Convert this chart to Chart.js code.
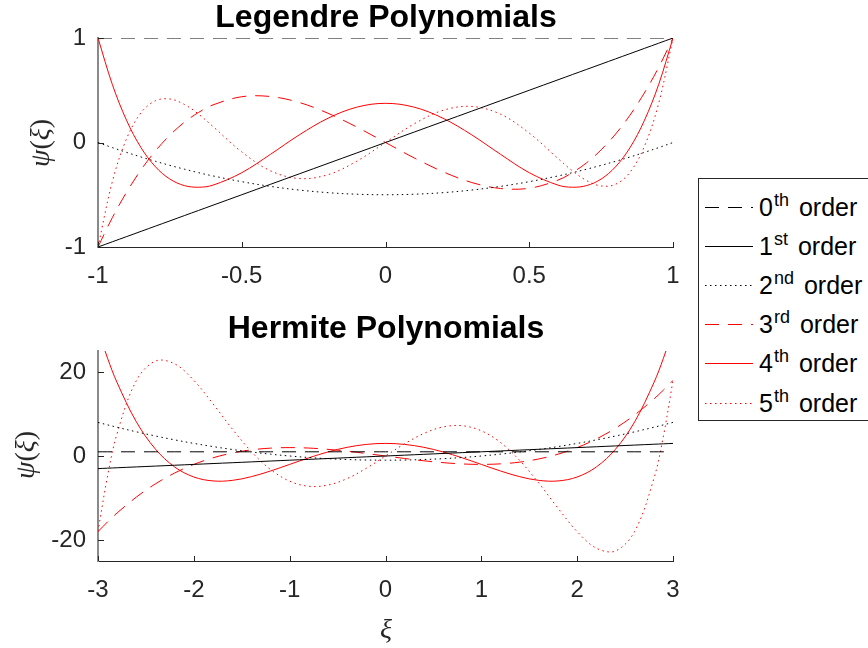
<!DOCTYPE html>
<html>
<head>
<meta charset="utf-8">
<script src="https://cdn.jsdelivr.net/npm/chart.js"></script>
<style>
body { margin: 0; background: #fff; }
#page { position: relative; width: 868px; height: 648px; overflow: hidden; font-family: "Liberation Sans", Arial, sans-serif; }
.panel { position: absolute; left: 0; }
.title { position: absolute; left: 0; width: 772px; text-align: center; font-weight: bold; font-size: 32px; line-height: 32px; color: #000; }
.lab { position: absolute; font-family: "Liberation Serif", "DejaVu Serif", serif; font-size: 28px; line-height: 32px; white-space: nowrap; color: #262626; transform: translate(-50%, -50%); }
.ylab { transform: translate(-50%, -50%) rotate(-90deg); }
#legend { position: absolute; left: 698px; top: 178px; width: 200px; height: 241px; border: 1px solid #262626; background: #fff; }
.row { position: absolute; left: 0; width: 200px; height: 30px; }
.row svg { position: absolute; left: 6px; top: 10px; }
.row span.txt { position: absolute; left: 60px; top: 0; font-size: 25px; line-height: 30px; color: #000; white-space: nowrap; }
.row sup { font-size: 18px; line-height: 0; vertical-align: 10px; margin-left: 1px; margin-right: 10px; }
</style>
</head>
<body>
<div id="page">
  <canvas id="legChart" class="panel" style="top:0px" width="700" height="300"></canvas>
  <canvas id="herChart" class="panel" style="top:300px" width="700" height="348"></canvas>
  <div class="title" style="top:0px">Legendre Polynomials</div>
  <div class="title" style="top:311px">Hermite Polynomials</div>
  <div class="lab ylab" style="left:40px; top:143px"><i>ψ</i>(<i>ξ</i>)</div>
  <div class="lab ylab" style="left:25px; top:455px"><i>ψ</i>(<i>ξ</i>)</div>
  <div class="lab" style="left:386px; top:629px"><i>ξ</i></div>
  <div id="legend"></div>
</div>
<script>
// Legendre panel (xi from -1 to 1)
const legX = [-1, -0.95, -0.9, -0.85, -0.8, -0.75, -0.7, -0.65, -0.6, -0.5, -0.4, -0.3, -0.2, -0.1, 0,
              0.1, 0.2, 0.3, 0.4, 0.5, 0.6, 0.65, 0.7, 0.75, 0.8, 0.85, 0.9, 0.95, 1];
const legP0 = [1, 1, 1, 1, 1, 1, 1, 1, 1, 1, 1, 1, 1, 1, 1, 1, 1, 1, 1, 1, 1, 1, 1, 1, 1, 1, 1, 1, 1];
const legP1 = [-1, -0.95, -0.9, -0.85, -0.8, -0.75, -0.7, -0.65, -0.6, -0.5, -0.4, -0.3, -0.2, -0.1, 0,
               0.1, 0.2, 0.3, 0.4, 0.5, 0.6, 0.65, 0.7, 0.75, 0.8, 0.85, 0.9, 0.95, 1];
const legP2 = [0, -0.049, -0.095, -0.139, -0.18, -0.219, -0.255, -0.289, -0.32, -0.375, -0.42, -0.455, -0.48, -0.495, -0.5,
               -0.495, -0.48, -0.455, -0.42, -0.375, -0.32, -0.289, -0.255, -0.219, -0.18, -0.139, -0.095, -0.049, 0];
const legP3 = [-1, -0.718, -0.473, -0.26, -0.08, 0.07, 0.193, 0.288, 0.36, 0.438, 0.44, 0.383, 0.28, 0.148, 0,
               -0.148, -0.28, -0.383, -0.44, -0.438, -0.36, -0.288, -0.193, -0.07, 0.08, 0.26, 0.473, 0.718, 1];
const legP4 = [1, 0.554, 0.208, -0.051, -0.233, -0.35, -0.412, -0.428, -0.408, -0.289, -0.113, 0.073, 0.232, 0.338, 0.375,
               0.338, 0.232, 0.073, -0.113, -0.289, -0.408, -0.428, -0.412, -0.35, -0.233, -0.051, 0.208, 0.554, 1];
const legP5 = [-1, -0.373, 0.041, 0.286, 0.4, 0.416, 0.365, 0.271, 0.153, -0.09, -0.271, -0.345, -0.308, -0.179, 0,
               0.179, 0.308, 0.345, 0.271, 0.09, -0.153, -0.271, -0.365, -0.416, -0.4, -0.286, -0.041, 0.373, 1];
const legXTicks = [-1, -0.5, 0, 0.5, 1];
const legYTicks = [-1, 0, 1];

// Hermite panel (xi from -3 to 3)
const herX = [-3, -2.9, -2.8, -2.6, -2.4, -2.2, -2, -1.8, -1.6, -1.4, -1.2, -1, -0.8, -0.6, -0.4, -0.2, 0,
              0.2, 0.4, 0.6, 0.8, 1, 1.2, 1.4, 1.6, 1.8, 2, 2.2, 2.4, 2.6, 2.8, 2.9, 3];
const herH0 = [1, 1, 1, 1, 1, 1, 1, 1, 1, 1, 1, 1, 1, 1, 1, 1, 1, 1, 1, 1, 1, 1, 1, 1, 1, 1, 1, 1, 1, 1, 1, 1, 1];
const herH1 = [-3, -2.9, -2.8, -2.6, -2.4, -2.2, -2, -1.8, -1.6, -1.4, -1.2, -1, -0.8, -0.6, -0.4, -0.2, 0,
               0.2, 0.4, 0.6, 0.8, 1, 1.2, 1.4, 1.6, 1.8, 2, 2.2, 2.4, 2.6, 2.8, 2.9, 3];
const herH2 = [8, 7.41, 6.84, 5.76, 4.76, 3.84, 3, 2.24, 1.56, 0.96, 0.44, 0, -0.36, -0.64, -0.84, -0.96, -1,
               -0.96, -0.84, -0.64, -0.36, 0, 0.44, 0.96, 1.56, 2.24, 3, 3.84, 4.76, 5.76, 6.84, 7.41, 8];
const herH3 = [-18, -15.69, -13.55, -9.78, -6.62, -4.05, -2, -0.43, 0.7, 1.46, 1.87, 2, 1.89, 1.58, 1.14, 0.59, 0,
               -0.59, -1.14, -1.58, -1.89, -2, -1.87, -1.46, -0.7, 0.43, 2, 4.05, 6.62, 9.78, 13.55, 15.69, 18];
const herH4 = [30, 23.27, 17.43, 8.14, 1.62, -2.61, -5, -5.94, -5.81, -4.92, -3.57, -2, -0.43, 0.97, 2.07, 2.76, 3,
               2.76, 2.07, 0.97, -0.43, -2, -3.57, -4.92, -5.81, -5.94, -5, -2.61, 1.62, 8.14, 17.43, 23.27, 30];
const herH5 = [-18, -4.72, 5.42, 17.95, 22.61, 21.94, 18, 12.42, 6.47, 1.06, -3.21, -6, -7.21, -6.92, -5.37, -2.92, 0,
               2.92, 5.37, 6.92, 7.21, 6, 3.21, -1.06, -6.47, -12.42, -18, -21.94, -22.61, -17.95, -5.42, 4.72, 18];
const herXTicks = [-3, -2, -1, 0, 1, 2, 3];
const herYTicks = [-20, 0, 20];

// legend text
const orderNums = ['0', '1', '2', '3', '4', '5'];
const orderSuffix = ['th', 'st', 'nd', 'rd', 'th', 'th'];

// line styles per order (MATLAB '--', '-', ':')
const DASH = [14, 9];
const DOT = [1.5, 3.5];
const orderStyles = [
    { color: '#000000', dash: DASH },
    { color: '#000000', dash: [] },
    { color: '#000000', dash: DOT },
    { color: '#ff0000', dash: DASH },
    { color: '#ff0000', dash: [] },
    { color: '#ff0000', dash: DOT }
];

const tickFont = { family: '"Liberation Sans", Arial, sans-serif', size: 24 };

// MATLAB style ticks pointing into the axes
const inwardTicks = {
    id: 'inwardTicks',
    afterDraw(chart) {
        const { ctx, chartArea, scales } = chart;
        ctx.save();
        ctx.strokeStyle = '#262626';
        ctx.lineWidth = 1;
        ctx.beginPath();
        scales.x.ticks.forEach(t => {
            const px = Math.round(scales.x.getPixelForValue(t.value)) + 0.5;
            ctx.moveTo(px, chartArea.bottom);
            ctx.lineTo(px, chartArea.bottom - 5);
        });
        scales.y.ticks.forEach(t => {
            const py = Math.round(scales.y.getPixelForValue(t.value)) + 0.5;
            ctx.moveTo(chartArea.left, py);
            ctx.lineTo(chartArea.left + 6, py);
        });
        ctx.stroke();
        ctx.restore();
    }
};

function makePanel(canvasId, xs, series, xTicks, yTicks, yMin, yMax, padTop, xAxisHeight) {
    const ctx = document.getElementById(canvasId);
    return new Chart(ctx, {
        type: 'line',
        data: {
            datasets: series.map((ys, i) => ({
                data: xs.map((x, j) => ({ x: x, y: ys[j] })),
                borderColor: orderStyles[i].color,
                borderDash: orderStyles[i].dash,
                borderWidth: 1,
                pointRadius: 0,
                tension: 0.35,
                fill: false
            }))
        },
        options: {
            responsive: false,
            animation: false,
            layout: { padding: { top: padTop, right: 27, left: 0, bottom: 0 } },
            elements: { line: { capBezierPoints: false } },
            plugins: { legend: { display: false }, tooltip: { enabled: false } },
            scales: {
                x: {
                    type: 'linear',
                    min: xTicks[0],
                    max: xTicks[xTicks.length - 1],
                    afterBuildTicks: s => { s.ticks = xTicks.map(v => ({ value: v })); },
                    afterFit: s => { s.height = xAxisHeight; },
                    grid: { drawOnChartArea: false, drawTicks: false },
                    border: { color: '#262626', width: 1 },
                    ticks: { font: tickFont, color: '#262626', padding: 15, maxRotation: 0, autoSkip: false, callback: v => String(v) }
                },
                y: {
                    type: 'linear',
                    min: yMin,
                    max: yMax,
                    afterBuildTicks: s => { s.ticks = yTicks.map(v => ({ value: v })); },
                    afterFit: s => { s.width = 98; },
                    grid: { drawOnChartArea: false, drawTicks: false },
                    border: { color: '#8a8a8a', width: 2 },
                    ticks: { font: tickFont, color: '#262626', padding: 12, autoSkip: false, callback: v => String(v) }
                }
            }
        },
        plugins: [inwardTicks]
    });
}

makePanel('legChart', legX, [legP0, legP1, legP2, legP3, legP4, legP5], legXTicks, legYTicks, -1, 1, 38, 53);
makePanel('herChart', herX, [herH0, herH1, herH2, herH3, herH4, herH5], herXTicks, herYTicks, -25, 25, 51, 87);

// legend with superscripts
const legendBox = document.getElementById('legend');
orderNums.forEach((n, i) => {
    const st = orderStyles[i];
    const row = document.createElement('div');
    row.className = 'row';
    row.style.top = (12.5 + i * 39.2) + 'px';
    const dash = st.dash.length ? st.dash.join(' ') : 'none';
    row.innerHTML =
        '<svg width="48" height="10"><line x1="0" y1="5.5" x2="48" y2="5.5" stroke="' + st.color +
        '" stroke-width="1" stroke-dasharray="' + dash + '"/></svg>' +
        '<span class="txt">' + n + '<sup>' + orderSuffix[i] + '</sup>order</span>';
    legendBox.appendChild(row);
});
</script>
</body>
</html>
